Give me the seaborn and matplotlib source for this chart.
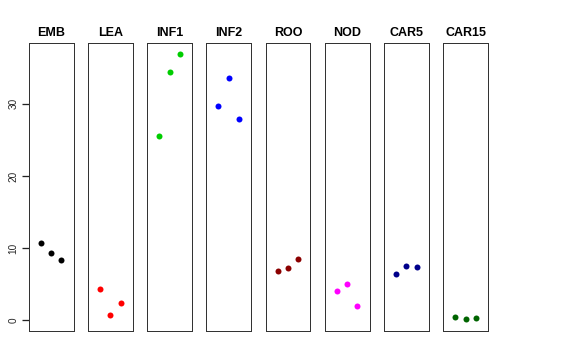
import matplotlib
matplotlib.use("Agg")
import matplotlib.pyplot as plt
import seaborn as sns
import pandas as pd

tissues = ["EMB", "LEA", "INF1", "INF2", "ROO", "NOD", "CAR5", "CAR15"]
emb = [10.66, 9.36, 8.35]
lea = [4.34, 0.78, 2.40]
inf1 = [25.53, 34.39, 36.93]
inf2 = [29.72, 33.52, 27.92]
roo = [6.79, 7.20, 8.49]
nod = [4.06, 5.07, 1.94]
car5 = [6.45, 7.52, 7.38]
car15 = [0.42, 0.18, 0.32]
values = [emb, lea, inf1, inf2, roo, nod, car5, car15]
colors = ["#000000", "#FF0000", "#00CD00", "#0000FF", "#8B0000", "#FF00FF", "#00008B", "#006400"]
yticks = [0, 10, 20, 30]
replicates = [1, 2, 3]

sns.set_style("ticks")
plt.rcParams["font.family"] = ["Liberation Sans", "DejaVu Sans"]

fig = plt.figure(figsize=(8, 5), dpi=72)
left_px, width_px, step_px = 28.7, 44.8, 59.2
top_px, bottom_px = 43.0, 331.0
W, H = 576.0, 360.0
tick_len_px = 7.5

for i, (name, vals, col) in enumerate(zip(tissues, values, colors)):
    x0 = left_px + i * step_px
    ax = fig.add_axes([x0 / W, 1 - bottom_px / H, width_px / W, (bottom_px - top_px) / H])
    df = pd.DataFrame({"rep": replicates, "val": vals})
    sns.scatterplot(data=df, x="rep", y="val", color=col, s=36, linewidth=0, ax=ax, legend=False)
    ax.set_xlim(-0.16, 4.16)
    ax.set_ylim(-1.48, 38.4)
    ax.set_xlabel("")
    ax.set_ylabel("")
    ax.set_xticks([])
    for sp in ax.spines.values():
        sp.set_visible(True)
        sp.set_color("#333333")
        sp.set_linewidth(1.0)
    ax.set_title(name, fontsize=12.5, fontweight="bold", pad=7, color="black")
    if i == 0:
        ax.set_yticks(yticks)
        ax.set_yticklabels([str(t) for t in yticks], rotation=90, va="center", fontsize=10)
        ax.tick_params(axis="y", direction="out", length=tick_len_px, width=1.3,
                       color="#222222", pad=3, left=True)
    else:
        ax.set_yticks([])

fig.savefig("out.png", dpi=72)
